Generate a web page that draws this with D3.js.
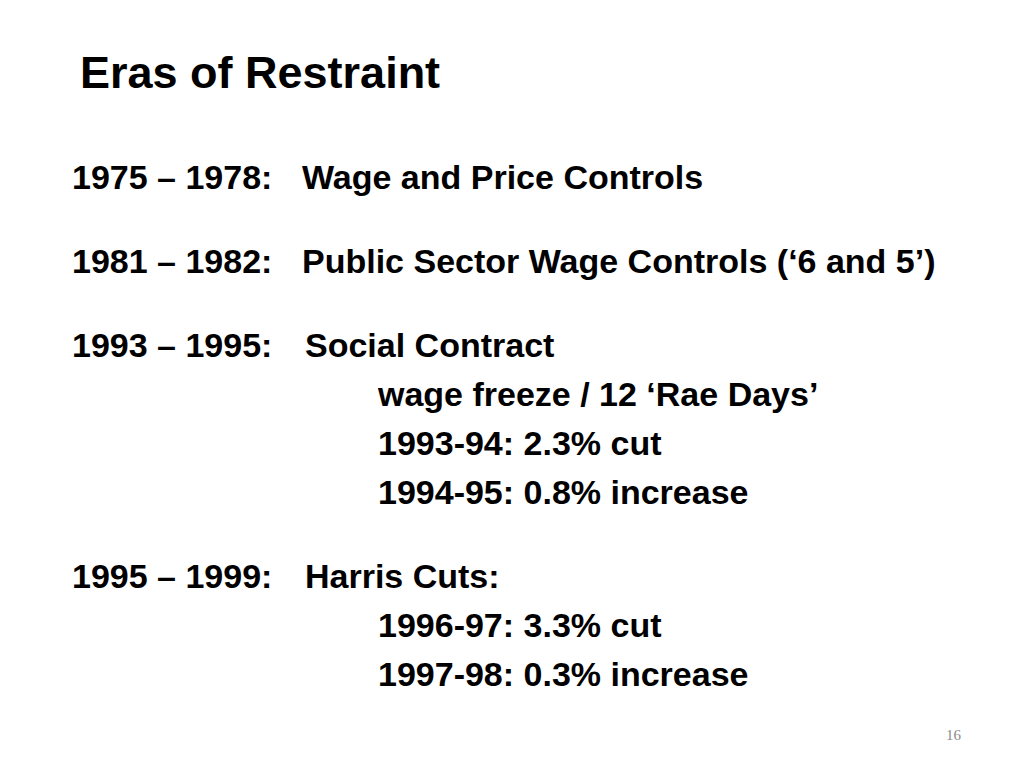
<!DOCTYPE html>
<html>
<head>
<meta charset="utf-8">
<script src="https://cdn.jsdelivr.net/npm/d3@7"></script>
<style>
  html, body { margin: 0; padding: 0; background: #fff; }
  svg { display: block; }
</style>
</head>
<body>
<svg></svg>
<script>
const title = "Eras of Restraint";
const periods = ["1975 – 1978:", "1981 – 1982:", "1993 – 1995:", "1995 – 1999:"];
const headings = ["Wage and Price Controls", "Public Sector Wage Controls (‘6 and 5’)", "Social Contract", "Harris Cuts:"];
const details = [
  [],
  [],
  ["wage freeze / 12 ‘Rae Days’", "1993-94: 2.3% cut", "1994-95: 0.8% increase"],
  ["1996-97: 3.3% cut", "1997-98: 0.3% increase"]
];
const pageNumber = "16";

const svgWidth = 1024, svgHeight = 768;
const font = "'Liberation Sans', Arial, Helvetica, sans-serif";

const svg = d3.select("svg")
  .attr("width", svgWidth)
  .attr("height", svgHeight);

svg.append("text")
  .attr("x", 80)
  .attr("y", 88)
  .attr("font-family", font)
  .attr("font-weight", "bold")
  .attr("font-size", 45)
  .attr("fill", "#000")
  .text(title);

// flatten into rows: main lines step 84px, sub lines step 49px
const rows = [];
periods.forEach((p, i) => {
  rows.push({ kind: "main", period: p, text: headings[i], idx: i });
  details[i].forEach(t => rows.push({ kind: "sub", text: t, idx: i }));
});
let y = 189 - 84;
rows.forEach(r => { y += r.kind === "main" ? 84 : 49; r.y = y; });

const body = svg.append("g")
  .attr("font-family", font)
  .attr("font-weight", "bold")
  .attr("font-size", 34)
  .attr("fill", "#000");

body.selectAll("text.period")
  .data(rows.filter(r => r.kind === "main"))
  .enter()
  .append("text")
  .attr("class", "period")
  .attr("x", 72)
  .attr("y", d => d.y)
  .text(d => d.period);

body.selectAll("text.heading")
  .data(rows.filter(r => r.kind === "main"))
  .enter()
  .append("text")
  .attr("class", "heading")
  .attr("x", d => d.idx < 2 ? 302 : 305)
  .attr("y", d => d.y)
  .text(d => d.text);

body.selectAll("text.sub")
  .data(rows.filter(r => r.kind === "sub"))
  .enter()
  .append("text")
  .attr("class", "sub")
  .attr("x", 378)
  .attr("y", d => d.y)
  .text(d => d.text);

svg.append("text")
  .attr("x", 946)
  .attr("y", 740)
  .attr("font-family", "'Liberation Serif', 'Times New Roman', serif")
  .attr("font-size", 15)
  .attr("fill", "#8a8a8a")
  .text(pageNumber);
</script>
</body>
</html>
